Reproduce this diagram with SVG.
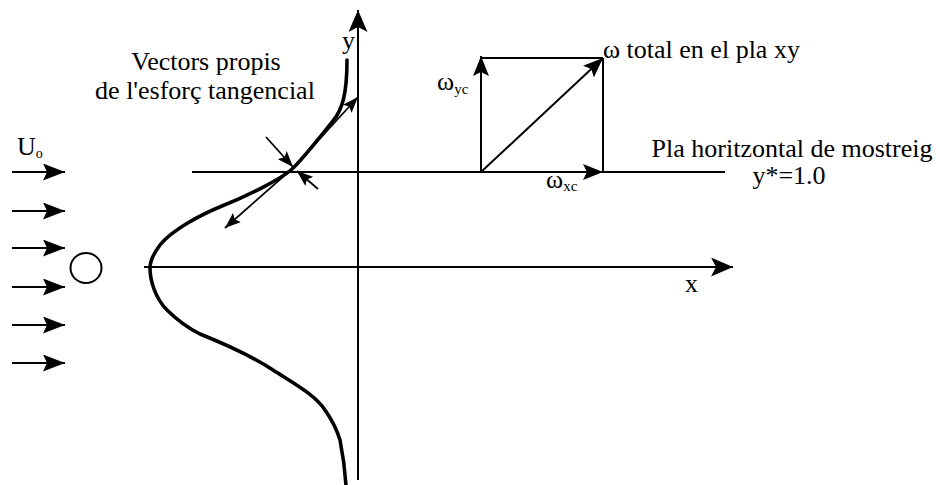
<svg xmlns="http://www.w3.org/2000/svg" width="940" height="485" viewBox="0 0 940 485">
<style>
  .ln { stroke:#000; stroke-width:2; fill:none; }
  .thin { stroke:#000; stroke-width:1.8; fill:none; }
  .curve { stroke:#000; stroke-width:3.6; fill:none; stroke-linejoin:round; stroke-linecap:round; }
  text { font-family:"Liberation Serif","Times New Roman","DejaVu Serif",serif; fill:#000; font-size:26px; }
</style>
<defs>
  <marker id="axisHead" viewBox="0 0 22 19" markerWidth="22" markerHeight="19" refX="22" refY="9.5" orient="auto" markerUnits="userSpaceOnUse">
    <path d="M0,0 L22,9.5 L0,19 L5,9.5 Z" fill="#000"/>
  </marker>
  <marker id="flowHead" viewBox="0 0 22 17" markerWidth="22" markerHeight="17" refX="22" refY="8.5" orient="auto" markerUnits="userSpaceOnUse">
    <path d="M0,0 L22,8.5 L0,17 L4,8.5 Z" fill="#000"/>
  </marker>
  <marker id="vecHead" viewBox="0 0 20 16" markerWidth="20" markerHeight="16" refX="20" refY="8" orient="auto" markerUnits="userSpaceOnUse">
    <path d="M0,0 L20,8 L0,16 L4,8 Z" fill="#000"/>
  </marker>
  <marker id="smallHead" viewBox="0 0 16 12" markerWidth="16" markerHeight="12" refX="16" refY="6" orient="auto" markerUnits="userSpaceOnUse">
    <path d="M0,0 L16,6 L0,12 L3,6 Z" fill="#000"/>
  </marker>
</defs>

<g id="flow">
  <line class="ln" x1="12" y1="172" x2="65" y2="172" marker-end="url(#flowHead)"/>
  <line class="ln" x1="12" y1="211" x2="65" y2="211" marker-end="url(#flowHead)"/>
  <line class="ln" x1="12" y1="248" x2="65" y2="248" marker-end="url(#flowHead)"/>
  <line class="ln" x1="12" y1="287" x2="65" y2="287" marker-end="url(#flowHead)"/>
  <line class="ln" x1="12" y1="325" x2="65" y2="325" marker-end="url(#flowHead)"/>
  <line class="ln" x1="12" y1="363" x2="65" y2="363" marker-end="url(#flowHead)"/>
  <text x="17" y="155" font-size="23">U<tspan font-size="14" dy="3">o</tspan></text>
</g>

<g id="cylinder">
  <ellipse cx="86" cy="268" rx="15.5" ry="15" class="ln"/>
</g>

<g id="axes">
  <line class="ln" x1="358" y1="480" x2="358" y2="10" marker-end="url(#axisHead)"/>
  <line class="ln" x1="144" y1="267" x2="733" y2="267" marker-end="url(#axisHead)"/>
  <text x="342" y="49">y</text>
  <text x="685" y="292">x</text>
</g>

<g id="sampling-plane">
  <line class="ln" x1="192" y1="172" x2="725" y2="172"/>
  <text x="792" y="157" text-anchor="middle">Pla horitzontal de mostreig</text>
  <text x="789" y="184" text-anchor="middle">y*=1.0</text>
</g>

<g id="profile">
  <path class="curve" d="M347,60 C347,95 342,110 333,121 C324,132 301,161.5 291,170 C281,178.5 250,195 222,206 C200,215 172,230 160,245 C154,253 150,262 150,268 C150,280 155,298 167,310 C178,321 188,328 200,334 C215,340 250,355 273,370 C295,384 315,395 325,410 C332,420 337,430 340,440 C343,455 345,470 346,485"/>
</g>

<g id="eigenvectors">
  <line class="thin" x1="293" y1="168" x2="358" y2="97" marker-end="url(#smallHead)"/>
  <line class="thin" x1="293" y1="168" x2="225" y2="228" marker-end="url(#smallHead)"/>
  <line class="thin" x1="266" y1="137" x2="293" y2="167" marker-end="url(#smallHead)"/>
  <line class="thin" x1="318" y1="189" x2="297" y2="171" marker-end="url(#smallHead)"/>
  <text x="206" y="70" text-anchor="middle">Vectors propis</text>
  <text x="205" y="99" text-anchor="middle">de l'esforç tangencial</text>
</g>

<g id="omega-diagram">
  <line class="ln" x1="481" y1="58" x2="603" y2="58"/>
  <line class="ln" x1="603" y1="58" x2="603" y2="172"/>
  <line class="ln" x1="481" y1="172" x2="481" y2="56" marker-end="url(#vecHead)"/>
  <line class="ln" x1="481" y1="172" x2="603" y2="172" marker-end="url(#vecHead)"/>
  <line class="ln" x1="481" y1="172" x2="603" y2="58" marker-end="url(#vecHead)"/>
  <text x="437" y="90">ω<tspan font-size="15" dy="4">yc</tspan></text>
  <text x="546" y="188">ω<tspan font-size="15" dy="3">xc</tspan></text>
  <text x="603" y="58">ω total en el pla xy</text>
</g>
</svg>
